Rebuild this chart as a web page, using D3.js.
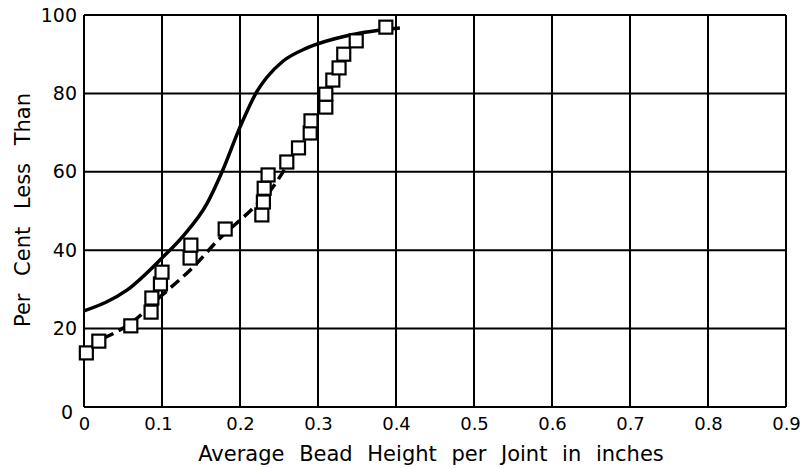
<!DOCTYPE html>
<html>
<head>
<meta charset="utf-8">
<script src="https://cdn.jsdelivr.net/npm/d3@7"></script>
<style>
  body { margin: 0; background: #fff; }
  svg text { font-family: "DejaVu Sans", sans-serif; fill: #000; }
</style>
</head>
<body>
<svg id="chart" width="806" height="468"></svg>
<script>
// measured squares (bead height, per cent less than)
const pointX = [0.003, 0.019, 0.06, 0.086, 0.087, 0.098, 0.1, 0.136, 0.137, 0.181,
  0.228, 0.23, 0.231, 0.236, 0.26, 0.275, 0.29, 0.291, 0.31, 0.31,
  0.319, 0.327, 0.333, 0.349, 0.387]
const pointY = [13.8, 16.8, 20.7, 24.2, 27.8, 31.4, 34.4, 38, 41.3, 45.4,
  49, 52.3, 55.8, 59.2, 62.5, 66.1, 69.9, 73, 76.5, 79.8,
  83.4, 86.5, 90, 93.4, 96.9]

// solid curve
const solidX = [0, 0.055, 0.1, 0.127, 0.158, 0.177, 0.2, 0.222, 0.234, 0.255, 0.286, 0.341, 0.405]
const solidY = [24.5, 29.8, 38, 43.6, 52, 60, 71.4, 80.6, 84, 88.2, 91.6, 94.9, 96.7]

// dashed curve
const dashX = [0.025, 0.062, 0.097, 0.14, 0.174, 0.213, 0.238, 0.26]
const dashY = [17.5, 21.7, 28, 35.7, 43, 50, 55, 61.5]

const xTicks = [0, 0.1, 0.2, 0.3, 0.4, 0.5, 0.6, 0.7, 0.8, 0.9]
const xTickLabels = ['0', '0.1', '0.2', '0.3', '0.4', '0.5', '0.6', '0.7', '0.8', '0.9']
const yTicks = [0, 20, 40, 60, 80, 100]

const margin = { top: 15, left: 84 }
const width = 702
const height = 392

const svg = d3.select('#chart')
const g = svg.append('g').attr('transform', `translate(${margin.left},${margin.top})`)

const x = d3.scaleLinear().domain([0, 0.9]).range([0, width])
const y = d3.scaleLinear().domain([0, 100]).range([height, 0])

// grid
g.append('g')
  .selectAll('line')
  .data(xTicks)
  .enter().append('line')
  .attr('x1', d => x(d)).attr('x2', d => x(d))
  .attr('y1', 0).attr('y2', height)
  .attr('stroke', '#000').attr('stroke-width', 2)

g.append('g')
  .selectAll('line')
  .data(yTicks)
  .enter().append('line')
  .attr('x1', 0).attr('x2', width)
  .attr('y1', d => y(d)).attr('y2', d => y(d))
  .attr('stroke', '#000').attr('stroke-width', 2)

// axes labels
const xAxis = g.append('g')
  .attr('transform', `translate(0,${height})`)
  .call(d3.axisBottom(x).tickValues(xTicks).tickSize(0).tickPadding(10)
    .tickFormat((d, i) => xTickLabels[i]))
xAxis.select('.domain').remove()
xAxis.selectAll('text').attr('font-size', 18)
  .attr('dx', d => d === 0.1 ? -4 : 0)

const yAxis = g.append('g')
  .call(d3.axisLeft(y).tickValues(yTicks).tickSize(0).tickPadding(7))
yAxis.select('.domain').remove()
yAxis.selectAll('text').attr('font-size', 19)
  .attr('dy', d => d === 0 ? '0.6em' : '0.32em')
  .attr('dx', d => d === 0 ? -4 : 0)

// curves
const line = d3.line().x(d => x(d[0])).y(d => y(d[1])).curve(d3.curveMonotoneX)

g.append('path')
  .datum(solidX.map((v, i) => [v, solidY[i]]))
  .attr('d', line)
  .attr('fill', 'none').attr('stroke', '#000').attr('stroke-width', 3.5)

g.append('path')
  .datum(dashX.map((v, i) => [v, dashY[i]]))
  .attr('d', line)
  .attr('fill', 'none').attr('stroke', '#000').attr('stroke-width', 3.5)
  .attr('stroke-dasharray', '11,6')

// squares
const s = 13
g.selectAll('rect.pt')
  .data(pointX.map((v, i) => [v, pointY[i]]))
  .enter().append('rect')
  .attr('class', 'pt')
  .attr('x', d => x(d[0]) - s / 2)
  .attr('y', d => y(d[1]) - s / 2)
  .attr('width', s).attr('height', s)
  .attr('fill', '#fff').attr('stroke', '#000').attr('stroke-width', 2.2)

// titles
svg.append('text')
  .attr('x', 431).attr('y', 461)
  .attr('text-anchor', 'middle')
  .attr('font-size', 21)
  .attr('word-spacing', 8)
  .text('Average Bead Height per Joint in inches')

svg.append('text')
  .attr('transform', 'translate(30,210) rotate(-90)')
  .attr('text-anchor', 'middle')
  .attr('font-size', 21)
  .attr('word-spacing', 11)
  .text('Per Cent Less Than')
</script>
</body>
</html>
